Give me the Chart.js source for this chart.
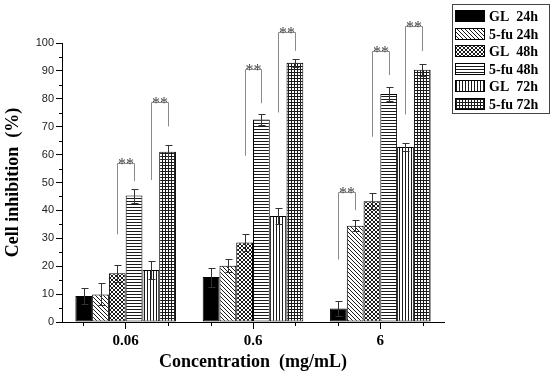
<!DOCTYPE html>
<html><head><meta charset="utf-8">
<script src="https://cdn.jsdelivr.net/npm/chart.js@4"></script>
<style>html,body{margin:0;padding:0;background:#fff}#wrap{width:550px;height:374px}</style>
</head><body><div id="wrap"><canvas id="c" width="550" height="374"></canvas></div>
<script>
// ---- data ----
const categories = ['0.06', '0.6', '6'];
const seriesLabels = ['GL  24h', '5-fu 24h', 'GL  48h', '5-fu 48h', 'GL  72h', '5-fu 72h'];
const gl24h = [9.3, 16.1, 4.8];
const fu24h = [9.9, 20.2, 34.5];
const gl48h = [17.5, 28.5, 43.3];
const fu48h = [45.3, 72.6, 81.7];
const gl72h = [18.6, 38.0, 62.7];
const fu72h = [61.0, 92.9, 90.4];
const gl24hErr = [2.9, 3.4, 2.7];
const fu24hErr = [3.9, 2.3, 1.9];
const gl48hErr = [3.1, 3.0, 2.9];
const fu48hErr = [2.5, 2.0, 2.5];
const gl72hErr = [3.2, 2.9, 1.4];
const fu72hErr = [2.4, 1.5, 2.2];
const yTickValues = [0, 10, 20, 30, 40, 50, 60, 70, 80, 90, 100];
// significance brackets: group, left series, right series, [left foot, top, right foot]
const bracketGroup = [0, 0, 1, 1, 2, 2, 2];
const bracketFrom = [2, 4, 2, 4, 0, 2, 4];
const bracketTo = [3, 5, 3, 5, 1, 3, 5];
const bracketLevels = [[31.4, 57.1, 50.5], [50.9, 79.0, 70.1], [59.6, 90.7, 78.4], [75.1, 103.8, 97.2], [22.4, 46.6, 40.1], [66.4, 97.2, 88.5], [74.4, 106.1, 97.1]];
const bracketText = ['**', '**', '**', '**', '**', '**', '**'];

const seriesValues = [gl24h, fu24h, gl48h, fu48h, gl72h, fu72h];
const seriesErrors = [gl24hErr, fu24hErr, gl48hErr, fu48hErr, gl72hErr, fu72hErr];
const patternKinds = ['solid', 'diag', 'cross', 'hline', 'vline', 'grid'];

function makePattern(kind) {
  const ink = '#1a1a1a';
  if (kind === 'solid') return '#000000';
  const c = document.createElement('canvas');
  const s = (kind === 'diag' || kind === 'cross') ? 4 : 3;
  c.width = s; c.height = s;
  const g = c.getContext('2d');
  g.fillStyle = '#ffffff'; g.fillRect(0, 0, s, s);
  g.fillStyle = ink;
  if (kind === 'diag') { for (let i = 0; i < s; i++) g.fillRect(i, i, 1, 1); }
  if (kind === 'cross') { for (let i = 0; i < s; i++) { g.fillRect(i, i, 1, 1); g.fillRect(s - 1 - i, i, 1, 1); } }
  if (kind === 'hline' || kind === 'grid') g.fillRect(0, 0, s, 1);
  if (kind === 'vline' || kind === 'grid') g.fillRect(0, 0, 1, s);
  return g.createPattern(c, 'repeat');
}
const fills = patternKinds.map(makePattern);

const SERIF = '"Liberation Serif", "Times New Roman", serif';
const SANS = '"Liberation Sans", Arial, sans-serif';

const extras = {
  id: 'extras',
  afterDraw(chart) {
    const ctx = chart.ctx;
    const xs = chart.scales.x, ys = chart.scales.y;
    ctx.save();
    // minor ticks
    ctx.strokeStyle = '#000'; ctx.lineWidth = 1;
    const step = xs.getPixelForValue(1) - xs.getPixelForValue(0);
    ctx.beginPath();
    for (let i = 0; i < categories.length; i++) {
      const p = xs.getPixelForValue(i);
      [p - step / 3, p + step / 3].forEach(q => {
        const qx = Math.round(q) + 0.5;
        ctx.moveTo(qx, xs.top); ctx.lineTo(qx, xs.top + 4);
      });
    }
    for (let k = 0; k < yTickValues.length - 1; k++) {
      const v = (yTickValues[k] + yTickValues[k + 1]) / 2;
      const py = Math.round(ys.getPixelForValue(v)) + 0.5;
      ctx.moveTo(ys.right - 3, py); ctx.lineTo(ys.right, py);
    }
    ctx.stroke();
    // error bars
    ctx.strokeStyle = '#333'; ctx.lineWidth = 1;
    seriesValues.forEach((vals, d) => {
      const meta = chart.getDatasetMeta(d);
      meta.data.forEach((bar, i) => {
        const e = seriesErrors[d][i];
        const x = Math.round(bar.x) + 0.5;
        const yt = Math.round(ys.getPixelForValue(vals[i] + e)) + 0.5;
        const yb = Math.round(ys.getPixelForValue(vals[i] - e)) + 0.5;
        ctx.beginPath();
        ctx.moveTo(x, yt); ctx.lineTo(x, yb);
        ctx.moveTo(x - 3, yt); ctx.lineTo(x + 4, yt);
        ctx.moveTo(x - 3, yb); ctx.lineTo(x + 4, yb);
        ctx.stroke();
      });
    });
    // brackets
    bracketGroup.forEach((g, k) => {
      const xl = Math.round(chart.getDatasetMeta(bracketFrom[k]).data[g].x) + 0.5;
      const xr = Math.round(chart.getDatasetMeta(bracketTo[k]).data[g].x) + 0.5;
      const [a, t, b] = bracketLevels[k];
      const ya = ys.getPixelForValue(a), yt = Math.round(ys.getPixelForValue(t)) + 0.5, yb = ys.getPixelForValue(b);
      ctx.strokeStyle = '#8a8a8a';
      ctx.beginPath();
      ctx.moveTo(xl, ya); ctx.lineTo(xl, yt); ctx.lineTo(xr, yt); ctx.lineTo(xr, yb);
      ctx.stroke();
      ctx.fillStyle = '#444';
      ctx.font = '16px ' + SERIF;
      ctx.textAlign = 'center'; ctx.textBaseline = 'alphabetic';
      ctx.fillText(bracketText[k], (xl + xr) / 2, yt + 5);
    });
    // legend
    const lx = chart.chartArea.right + 8, ly = 4, lw = 97, lh = 109;
    ctx.strokeStyle = '#444'; ctx.lineWidth = 1;
    ctx.strokeRect(lx + 0.5, ly + 0.5, lw, lh);
    ctx.font = 'bold 14px ' + SERIF;
    ctx.textAlign = 'left'; ctx.textBaseline = 'middle';
    chart.data.datasets.forEach((ds, d) => {
      const cy = Math.round(ly + 12 + d * 17.6);
      ctx.fillStyle = ds.backgroundColor;
      ctx.fillRect(lx + 3, cy - 6, 30, 12);
      ctx.strokeStyle = '#000';
      ctx.strokeRect(lx + 3.5, cy - 5.5, 29, 11);
      ctx.fillStyle = '#000';
      ctx.fillText(ds.label, lx + 37, cy + 1);
    });
    ctx.restore();
  }
};

new Chart(document.getElementById('c'), {
  type: 'bar',
  data: {
    labels: categories,
    datasets: seriesValues.map((vals, d) => ({
      label: seriesLabels[d],
      data: vals,
      backgroundColor: fills[d],
      borderColor: '#000',
      borderWidth: 1,
      borderSkipped: false
    }))
  },
  options: {
    responsive: false,
    animation: false,
    devicePixelRatio: 1,
    layout: { padding: { top: 43, right: 106, left: 0, bottom: 0 } },
    datasets: { bar: { categoryPercentage: 0.79, barPercentage: 1 } },
    plugins: { legend: { display: false }, tooltip: { enabled: false } },
    scales: {
      x: {
        offset: true,
        grid: { offset: false, drawOnChartArea: false, drawTicks: true, tickLength: 7, tickColor: '#000' },
        border: { color: '#000', width: 1 },
        ticks: { color: '#000', padding: 3, font: { family: SERIF, size: 15, weight: 'bold' } },
        title: { display: true, text: 'Concentration  (mg/mL)', color: '#000', padding: { top: 2, bottom: 1 }, font: { family: SERIF, size: 18, weight: 'bold' } },
        afterFit(s) { s.height = 52; }
      },
      y: {
        min: 0, max: 100,
        afterBuildTicks(s) { s.ticks = yTickValues.map(v => ({ value: v })); },
        grid: { drawOnChartArea: false, drawTicks: true, tickLength: 6, tickColor: '#000' },
        border: { color: '#000', width: 1 },
        ticks: { color: '#222', padding: 2, font: { family: SANS, size: 11 } },
        title: { display: true, text: 'Cell inhibition  (%)', color: '#000', padding: { top: 3, bottom: 4 }, font: { family: SERIF, size: 18, weight: 'bold' } },
        afterFit(s) { s.width = 62; }
      }
    }
  },
  plugins: [extras]
});
</script></body></html>
